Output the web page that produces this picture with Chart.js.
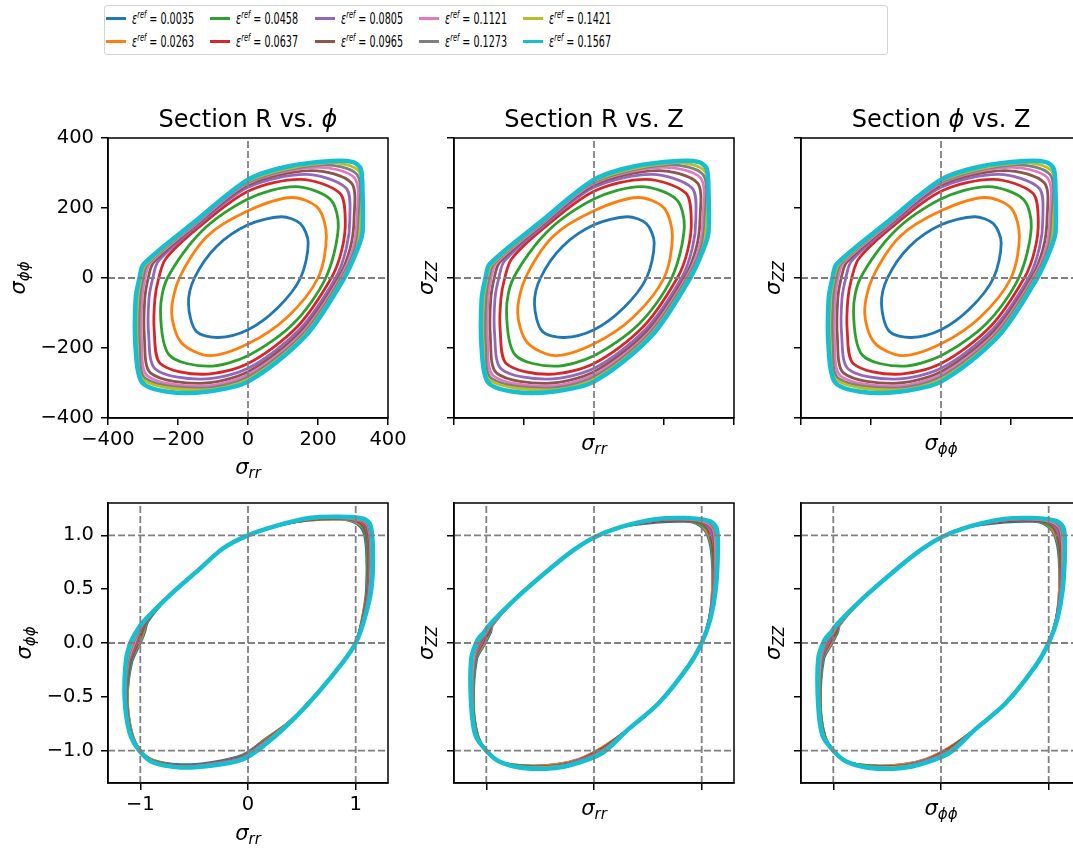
<!DOCTYPE html>
<html lang="en">
<head>
<meta charset="UTF-8" />
<title>Stress sections</title>
<script src="https://cdn.jsdelivr.net/npm/chart.js"></script>
<style>
  html, body { margin: 0; padding: 0; background: #fff; overflow: hidden; }
  body { width: 1073px; height: 848px; position: relative; font-family: "DejaVu Sans", sans-serif; }
  canvas { position: absolute; }
  #legend { position: absolute; left: 104px; top: 5px; width: 782px; height: 48px; border: 1px solid #d4d4d4; border-radius: 3px; }
  .item { position: absolute; height: 20px; width: 100px; }
  .item .swatch { position: absolute; left: 0; top: 8.5px; width: 20px; height: 3px; }
  .item .lbl { position: absolute; left: 26px; top: 0; font-size: 16px; line-height: 20px; white-space: nowrap;
               transform: scaleX(0.6); transform-origin: 0 50%; color: #000; }
  .item .sup { font-size: 11px; position: relative; top: -6px; font-style: italic; }
</style>
</head>
<body>
<div id="legend"></div>
<canvas id="p0" width="415" height="405"></canvas>
<canvas id="p1" width="415" height="405"></canvas>
<canvas id="p2" width="415" height="405"></canvas>
<canvas id="p3" width="415" height="405"></canvas>
<canvas id="p4" width="415" height="405"></canvas>
<canvas id="p5" width="415" height="405"></canvas>

<script>
  const epsRef = ['0.0035', '0.0263', '0.0458', '0.0637', '0.0805', '0.0965', '0.1121', '0.1273', '0.1421', '0.1567'];
  const colors = ['#1f77b4', '#ff7f0e', '#2ca02c', '#d62728', '#9467bd', '#8c564b', '#e377c2', '#7f7f7f', '#bcbd22', '#17becf'];

  const topRange = [-400, 400];
  const topTicks = [-400, -200, 0, 200, 400];
  const topTickLabels = ['\u2212400', '\u2212200', '0', '200', '400'];
  const topRefLines = [0];

  const botRange = [-1.3, 1.3];
  const botXTicks = [-1, 0, 1];
  const botXTickLabels = ['\u22121', '0', '1'];
  const botYTicks = [-1, -0.5, 0, 0.5, 1];
  const botYTickLabels = ['\u22121.0', '\u22120.5', '0.0', '0.5', '1.0'];
  const botRefLines = [-1, 0, 1];

  // top row (absolute stress), one closed loop per eps_ref; the three sections look the same
  const topCurves = [
    [[0,152],[95,175],[150,155],[172,100],[150,0],[85,-85],[0,-148],[-85,-170],[-148,-152],[-170,-75],[-153,0],[-90,90]],
    [[0,192],[125,230],[200,200],[224,120],[200,0],[112,-112],[0,-188],[-110,-222],[-190,-185],[-218,-100],[-196,0],[-118,118]],
    [[0,226],[135,261],[235,225],[258,145],[222,0],[130,-130],[0,-222],[-115,-252],[-225,-220],[-250,-95],[-230,0],[-133,133]],
    [[0,248],[150,282],[262,243],[278,165],[268,80],[238,0],[140,-140],[0,-244],[-130,-275],[-250,-245],[-268,-150],[-266,-60],[-255,0],[-235,55],[-143,143]],
    [[0,259],[165,296],[280,257],[291,170],[281,85],[250,0],[147,-147],[0,-258],[-135,-289],[-265,-260],[-284,-160],[-283,-60],[-272,0],[-256,48],[-147,147]],
    [[0,266],[180,307],[295,272],[303,170],[292,85],[258,0],[152,-152],[0,-268],[-135,-301],[-278,-272],[-296,-170],[-295,-60],[-285,0],[-270,44],[-150,150]],
    [[0,271],[195,316],[305,285],[311,170],[300,85],[263,0],[156,-156],[0,-276],[-135,-309],[-287,-280],[-304,-180],[-303,-60],[-294,0],[-280,42],[-152,152]],
    [[0,274],[210,323],[312,295],[317,170],[306,85],[267,0],[159,-159],[0,-283],[-135,-315],[-293,-287],[-310,-190],[-309,-60],[-300,0],[-287,40],[-154,154]],
    [[0,277],[225,329],[318,303],[322,170],[311,85],[271,0],[162,-162],[0,-289],[-135,-320],[-298,-292],[-316,-195],[-315,-60],[-305,0],[-293,38],[-155,155]],
    [[0,281],[110,318],[240,334],[300,331],[322,312],[327,250],[327,130],[312,80],[275,0],[165,-165],[0,-296],[-120,-325],[-230,-325],[-303,-298],[-321,-200],[-321,-60],[-310,0],[-298,40],[-157,157]]
  ];

  // bottom row, normalised, R vs phi
  const botRPhiCurves = [
    [[0,1.0],[0.27,1.09],[0.57,1.14],[0.85,1.15],[0.99,1.12],[1.07,1.04],[1.10,0.86],[1.10,0.5],[1.06,0.22],[1.0,0],[0.88,-0.18],[0.66,-0.45],[0.4,-0.72],[0.15,-0.9],[-0.05,-1.04],[-0.35,-1.11],[-0.63,-1.13],[-0.88,-1.09],[-1.0,-1.0],[-1.08,-0.83],[-1.12,-0.52],[-1.08,-0.18],[-1.0,0],[-0.96,0.1],[-0.93,0.2],[-0.73,0.44],[-0.48,0.66],[-0.23,0.88]],
    [[0,1.0],[0.27,1.09],[0.57,1.14],[0.85,1.15],[1.0,1.125],[1.08,1.05],[1.11,0.86],[1.11,0.5],[1.06,0.22],[1.0,0],[0.88,-0.18],[0.66,-0.45],[0.4,-0.72],[0.15,-0.905],[-0.05,-1.05],[-0.35,-1.12],[-0.63,-1.14],[-0.88,-1.09],[-1.0,-1.0],[-1.08,-0.83],[-1.12,-0.52],[-1.09,-0.18],[-1.01,0],[-0.97,0.1],[-0.94,0.2],[-0.73,0.44],[-0.48,0.66],[-0.23,0.88]],
    [[0,1.0],[0.27,1.09],[0.57,1.145],[0.85,1.155],[1.01,1.13],[1.08,1.05],[1.11,0.86],[1.11,0.5],[1.065,0.22],[1.0,0],[0.88,-0.18],[0.66,-0.45],[0.4,-0.72],[0.15,-0.91],[-0.05,-1.05],[-0.35,-1.12],[-0.63,-1.14],[-0.88,-1.095],[-1.0,-1.0],[-1.085,-0.83],[-1.125,-0.52],[-1.09,-0.18],[-1.02,0],[-0.98,0.1],[-0.94,0.2],[-0.73,0.44],[-0.48,0.66],[-0.23,0.88]],
    [[0,1.0],[0.27,1.09],[0.57,1.145],[0.85,1.16],[1.02,1.13],[1.09,1.06],[1.12,0.86],[1.115,0.5],[1.065,0.22],[1.0,0],[0.88,-0.18],[0.66,-0.45],[0.4,-0.72],[0.15,-0.915],[-0.05,-1.055],[-0.35,-1.12],[-0.63,-1.14],[-0.88,-1.1],[-1.0,-1.0],[-1.09,-0.83],[-1.13,-0.52],[-1.1,-0.18],[-1.03,-0.01],[-0.99,0.1],[-0.945,0.2],[-0.73,0.44],[-0.48,0.66],[-0.23,0.88]],
    [[0,1.0],[0.27,1.09],[0.57,1.15],[0.85,1.16],[1.03,1.135],[1.10,1.065],[1.125,0.86],[1.12,0.5],[1.07,0.22],[1.0,0],[0.88,-0.18],[0.66,-0.45],[0.4,-0.72],[0.15,-0.92],[-0.05,-1.06],[-0.35,-1.125],[-0.63,-1.145],[-0.88,-1.1],[-1.0,-1.0],[-1.09,-0.83],[-1.13,-0.52],[-1.105,-0.18],[-1.04,-0.01],[-1.0,0.1],[-0.95,0.2],[-0.73,0.44],[-0.48,0.66],[-0.23,0.88]],
    [[0,1.0],[0.27,1.09],[0.57,1.15],[0.85,1.165],[1.04,1.14],[1.105,1.07],[1.13,0.86],[1.125,0.5],[1.07,0.22],[1.0,0],[0.88,-0.18],[0.66,-0.45],[0.4,-0.72],[0.15,-0.925],[-0.05,-1.065],[-0.35,-1.13],[-0.63,-1.145],[-0.88,-1.1],[-1.0,-1.0],[-1.09,-0.83],[-1.135,-0.52],[-1.11,-0.18],[-1.05,-0.01],[-1.005,0.1],[-0.955,0.2],[-0.73,0.44],[-0.48,0.66],[-0.23,0.88]],
    [[0,1.0],[0.27,1.09],[0.57,1.155],[0.85,1.165],[1.05,1.14],[1.115,1.08],[1.14,0.86],[1.13,0.5],[1.075,0.22],[1.0,0],[0.88,-0.18],[0.66,-0.45],[0.4,-0.72],[0.15,-0.93],[-0.05,-1.07],[-0.35,-1.13],[-0.63,-1.15],[-0.88,-1.105],[-1.0,-1.0],[-1.095,-0.83],[-1.14,-0.52],[-1.115,-0.18],[-1.06,-0.015],[-1.015,0.1],[-0.96,0.2],[-0.73,0.44],[-0.48,0.66],[-0.23,0.88]],
    [[0,1.0],[0.27,1.09],[0.57,1.155],[0.85,1.17],[1.055,1.145],[1.12,1.085],[1.145,0.86],[1.135,0.5],[1.075,0.22],[1.0,0],[0.88,-0.18],[0.66,-0.45],[0.4,-0.72],[0.15,-0.935],[-0.05,-1.073],[-0.35,-1.135],[-0.63,-1.15],[-0.88,-1.105],[-1.0,-1.0],[-1.095,-0.83],[-1.14,-0.52],[-1.12,-0.18],[-1.075,-0.015],[-1.02,0.1],[-0.963,0.2],[-0.73,0.44],[-0.48,0.66],[-0.23,0.88]],
    [[0,1.0],[0.27,1.09],[0.57,1.16],[0.85,1.17],[1.06,1.15],[1.13,1.09],[1.15,0.86],[1.14,0.5],[1.08,0.22],[1.0,0],[0.88,-0.18],[0.66,-0.45],[0.4,-0.72],[0.15,-0.94],[-0.05,-1.077],[-0.35,-1.137],[-0.63,-1.153],[-0.88,-1.108],[-1.0,-1.0],[-1.098,-0.83],[-1.142,-0.52],[-1.128,-0.18],[-1.085,-0.02],[-1.03,0.1],[-0.967,0.2],[-0.73,0.44],[-0.48,0.66],[-0.23,0.88]],
    [[0,1.0],[0.27,1.09],[0.57,1.16],[0.85,1.172],[1.07,1.155],[1.135,1.10],[1.16,0.86],[1.145,0.5],[1.08,0.22],[1.0,0],[0.88,-0.18],[0.66,-0.45],[0.4,-0.73],[0.15,-0.95],[-0.05,-1.08],[-0.35,-1.14],[-0.63,-1.155],[-0.88,-1.11],[-1.01,-1.0],[-1.10,-0.83],[-1.145,-0.52],[-1.135,-0.18],[-1.10,-0.02],[-1.04,0.1],[-0.97,0.2],[-0.73,0.44],[-0.48,0.66],[-0.23,0.88]]
  ];

  // bottom row, normalised, vs ZZ (R vs Z and phi vs Z look the same)
  const botZZCurves = [
    [[0,0.98],[0.26,1.08],[0.57,1.12],[0.85,1.13],[0.95,1.11],[1.04,1.03],[1.09,0.85],[1.1,0.5],[1.07,0.22],[1,0],[0.88,-0.21],[0.6,-0.56],[0.32,-0.8],[0.08,-0.97],[-0.14,-1.08],[-0.36,-1.13],[-0.66,-1.14],[-0.88,-1.1],[-1,-1],[-1.08,-0.86],[-1.12,-0.58],[-1.09,-0.15],[-1.01,0],[-0.96,0.1],[-0.94,0.17],[-0.73,0.41],[-0.45,0.655],[-0.2,0.855]],
    [[0,0.98],[0.26,1.08],[0.57,1.13],[0.85,1.14],[0.97,1.11],[1.05,1.03],[1.1,0.85],[1.1,0.5],[1.07,0.22],[1,0],[0.88,-0.21],[0.6,-0.56],[0.32,-0.8],[0.08,-0.97],[-0.14,-1.08],[-0.36,-1.13],[-0.66,-1.14],[-0.88,-1.1],[-1,-1],[-1.08,-0.86],[-1.12,-0.58],[-1.1,-0.15],[-1.02,0],[-0.97,0.1],[-0.94,0.17],[-0.73,0.41],[-0.45,0.655],[-0.2,0.855]],
    [[0,0.98],[0.26,1.08],[0.57,1.13],[0.85,1.14],[0.98,1.11],[1.06,1.04],[1.1,0.85],[1.11,0.5],[1.07,0.22],[1,0],[0.88,-0.21],[0.6,-0.56],[0.32,-0.8],[0.08,-0.98],[-0.14,-1.09],[-0.36,-1.14],[-0.66,-1.14],[-0.88,-1.1],[-1,-1],[-1.08,-0.86],[-1.12,-0.58],[-1.1,-0.15],[-1.03,0.01],[-0.97,0.1],[-0.95,0.17],[-0.73,0.41],[-0.45,0.655],[-0.2,0.855]],
    [[0,0.98],[0.26,1.08],[0.57,1.13],[0.85,1.14],[1.0,1.12],[1.07,1.04],[1.11,0.85],[1.11,0.5],[1.07,0.22],[1,0],[0.88,-0.21],[0.6,-0.56],[0.32,-0.8],[0.08,-0.98],[-0.14,-1.09],[-0.36,-1.14],[-0.66,-1.15],[-0.88,-1.1],[-1,-1],[-1.09,-0.86],[-1.13,-0.58],[-1.11,-0.15],[-1.03,0.01],[-0.98,0.1],[-0.95,0.17],[-0.73,0.41],[-0.45,0.655],[-0.2,0.855]],
    [[0,0.98],[0.26,1.08],[0.57,1.14],[0.85,1.15],[1.01,1.12],[1.08,1.04],[1.12,0.85],[1.11,0.5],[1.07,0.22],[1,0],[0.88,-0.21],[0.6,-0.56],[0.32,-0.8],[0.08,-0.99],[-0.14,-1.09],[-0.36,-1.14],[-0.66,-1.15],[-0.88,-1.1],[-1,-1],[-1.09,-0.86],[-1.13,-0.58],[-1.11,-0.15],[-1.04,0.01],[-0.99,0.1],[-0.95,0.17],[-0.73,0.41],[-0.45,0.655],[-0.2,0.855]],
    [[0,0.98],[0.26,1.08],[0.57,1.14],[0.85,1.15],[1.02,1.12],[1.1,1.05],[1.12,0.85],[1.12,0.5],[1.08,0.22],[1,0],[0.88,-0.21],[0.6,-0.56],[0.32,-0.8],[0.08,-0.99],[-0.14,-1.1],[-0.36,-1.14],[-0.66,-1.15],[-0.88,-1.1],[-1,-1],[-1.09,-0.86],[-1.13,-0.58],[-1.12,-0.15],[-1.05,0.02],[-0.99,0.1],[-0.96,0.17],[-0.73,0.41],[-0.45,0.655],[-0.2,0.855]],
    [[0,0.98],[0.26,1.08],[0.57,1.14],[0.85,1.15],[1.04,1.12],[1.11,1.05],[1.13,0.85],[1.12,0.5],[1.08,0.22],[1,0],[0.88,-0.21],[0.6,-0.56],[0.32,-0.8],[0.08,-1.0],[-0.14,-1.1],[-0.36,-1.15],[-0.66,-1.15],[-0.88,-1.1],[-1,-1],[-1.09,-0.86],[-1.13,-0.58],[-1.12,-0.15],[-1.06,0.02],[-1.0,0.1],[-0.96,0.17],[-0.73,0.41],[-0.45,0.655],[-0.2,0.855]],
    [[0,0.98],[0.26,1.08],[0.57,1.14],[0.85,1.16],[1.05,1.13],[1.12,1.05],[1.14,0.85],[1.12,0.5],[1.08,0.22],[1,0],[0.88,-0.21],[0.6,-0.56],[0.32,-0.8],[0.08,-1.0],[-0.14,-1.1],[-0.36,-1.15],[-0.66,-1.16],[-0.88,-1.1],[-1,-1],[-1.1,-0.86],[-1.14,-0.58],[-1.13,-0.15],[-1.06,0.02],[-1.01,0.1],[-0.96,0.17],[-0.73,0.41],[-0.45,0.655],[-0.2,0.855]],
    [[0,0.98],[0.26,1.08],[0.57,1.15],[0.85,1.16],[1.07,1.13],[1.13,1.06],[1.14,0.85],[1.13,0.5],[1.08,0.22],[1,0],[0.88,-0.21],[0.6,-0.56],[0.32,-0.8],[0.08,-1.01],[-0.14,-1.11],[-0.36,-1.15],[-0.66,-1.16],[-0.88,-1.1],[-1,-1],[-1.1,-0.86],[-1.14,-0.58],[-1.13,-0.15],[-1.07,0.03],[-1.01,0.1],[-0.97,0.17],[-0.73,0.41],[-0.45,0.655],[-0.2,0.855]],
    [[0,0.98],[0.26,1.08],[0.57,1.15],[0.85,1.16],[1.08,1.13],[1.14,1.06],[1.15,0.85],[1.13,0.5],[1.08,0.22],[1,0],[0.88,-0.21],[0.6,-0.56],[0.32,-0.8],[0.08,-1.02],[-0.14,-1.11],[-0.36,-1.16],[-0.66,-1.16],[-0.88,-1.1],[-1,-1],[-1.1,-0.86],[-1.14,-0.58],[-1.14,-0.15],[-1.08,0.03],[-1.02,0.1],[-0.97,0.17],[-0.73,0.41],[-0.45,0.655],[-0.2,0.855]]
  ];

  const FONT = '"DejaVu Sans"';
  const AXIS_LEFT = 110, AXIS_BOTTOM = 70, PAD_TOP = 50;

  const topRow = { curves: topCurves, range: topRange, xt: topTicks, yt: topTicks, xl: topTickLabels, yl: topTickLabels, refs: topRefLines };
  const botRPhi = { curves: botRPhiCurves, range: botRange, xt: botXTicks, yt: botYTicks, xl: botXTickLabels, yl: botYTickLabels, refs: botRefLines };
  const botZZ = { curves: botZZCurves, range: botRange, xt: botXTicks, yt: botYTicks, xl: botXTickLabels, yl: botYTickLabels, refs: botRefLines };

  const panels = [
    { id: 'p0', left: 108, top: 138, row: topRow, labels: true, title: [['Section R vs. ', false], ['\u03d5', true]], xlab: ['\u03c3', 'rr'], ylab: ['\u03c3', '\u03d5\u03d5'], xOff: 50, yOff: 89 },
    { id: 'p1', left: 454, top: 138, row: topRow, labels: false, title: [['Section R vs. Z', false]], xlab: ['\u03c3', 'rr'], ylab: ['\u03c3', 'ZZ'], xOff: 26, yOff: 27 },
    { id: 'p2', left: 801, top: 138, row: topRow, labels: false, title: [['Section ', false], ['\u03d5', true], [' vs. Z', false]], xlab: ['\u03c3', '\u03d5\u03d5'], ylab: ['\u03c3', 'ZZ'], xOff: 26, yOff: 27 },
    { id: 'p3', left: 108, top: 503, row: botRPhi, labels: true, title: null, xlab: ['\u03c3', 'rr'], ylab: ['\u03c3', '\u03d5\u03d5'], xOff: 51, yOff: 83 },
    { id: 'p4', left: 454, top: 503, row: botZZ, labels: false, title: null, xlab: ['\u03c3', 'rr'], ylab: ['\u03c3', 'ZZ'], xOff: 26, yOff: 27 },
    { id: 'p5', left: 801, top: 503, row: botZZ, labels: false, title: null, xlab: ['\u03c3', '\u03d5\u03d5'], ylab: ['\u03c3', 'ZZ'], xOff: 26, yOff: 27 }
  ];
  const panelById = {};
  panels.forEach(p => { panelById[p.id] = p; });

  // sigma with a lowered, smaller subscript; anchor is the centre of the sigma body
  function mathLabel(ctx, lab, x, y, rotate) {
    ctx.save();
    ctx.translate(x, y);
    if (rotate) ctx.rotate(-Math.PI / 2);
    ctx.fillStyle = '#000';
    ctx.textAlign = 'left';
    ctx.textBaseline = 'alphabetic';
    const f1 = 'italic 21px ' + FONT, f2 = 'italic 15px ' + FONT;
    ctx.font = f1;
    const w1 = ctx.measureText(lab[0]).width;
    ctx.font = f2;
    const w2 = ctx.measureText(lab[1]).width;
    const x0 = -(w1 + w2) / 2;
    ctx.font = f1;
    ctx.fillText(lab[0], x0, 6);
    ctx.font = f2;
    ctx.fillText(lab[1], x0 + w1, 10);
    ctx.restore();
  }

  function richTitle(ctx, parts, cx, y) {
    ctx.save();
    ctx.fillStyle = '#000';
    ctx.textAlign = 'left';
    ctx.textBaseline = 'alphabetic';
    const fonts = parts.map(p => (p[1] ? 'italic ' : '') + '24px ' + FONT);
    let total = 0;
    const widths = parts.map((p, i) => { ctx.font = fonts[i]; const w = ctx.measureText(p[0]).width; total += w; return w; });
    let x = cx - total / 2;
    parts.forEach((p, i) => { ctx.font = fonts[i]; ctx.fillText(p[0], x, y); x += widths[i]; });
    ctx.restore();
  }

  const panelDecor = {
    id: 'panelDecor',
    // the loops are closed curves: let the line element join last point to first
    afterDatasetUpdate(chart, args) {
      const ds = chart.data.datasets[args.index];
      const line = args.meta.dataset;
      if (ds.closed && line) {
        line._loop = true;
        line._fullLoop = true;
      }
    },
    afterDatasetsDraw(chart) {
      const { ctx, chartArea: { left, top, right, bottom } } = chart;
      ctx.save();
      ctx.strokeStyle = '#000';
      ctx.lineWidth = 1.5;
      ctx.strokeRect(left, top, right - left, bottom - top);
      ctx.restore();
    },
    afterDraw(chart) {
      const p = panelById[chart.canvas.id];
      const { ctx, chartArea: { left, top, right, bottom } } = chart;
      const cx = (left + right) / 2, cy = (top + bottom) / 2;
      if (p.title) richTitle(ctx, p.title, cx, top - 11);
      mathLabel(ctx, p.xlab, cx, bottom + p.xOff, false);
      mathLabel(ctx, p.ylab, left - p.yOff, cy, true);
    }
  };

  function axis(horiz, p) {
    const r = p.row;
    const ticks = horiz ? r.xt : r.yt;
    const labels = horiz ? r.xl : r.yl;
    return {
      type: 'linear',
      position: horiz ? 'bottom' : 'left',
      min: r.range[0],
      max: r.range[1],
      afterBuildTicks: s => { s.ticks = ticks.map(v => ({ value: v })); },
      afterFit: s => {
        if (horiz) s.height = AXIS_BOTTOM; else s.width = AXIS_LEFT;
        s.paddingLeft = 0; s.paddingRight = 0; s.paddingTop = 0; s.paddingBottom = 0;
      },
      grid: { drawOnChartArea: false, drawTicks: true, tickLength: 7, color: '#000', lineWidth: 1.5 },
      border: { display: true, color: '#000', width: 1.5 },
      ticks: {
        display: p.labels,
        autoSkip: false,
        maxRotation: 0,
        padding: horiz ? 3 : 7,
        color: '#000',
        font: { family: 'DejaVu Sans', size: 19.5 },
        callback: (v, i) => labels[i]
      }
    };
  }

  panels.forEach(p => {
    const canvas = document.getElementById(p.id);
    canvas.style.left = (p.left - AXIS_LEFT) + 'px';
    canvas.style.top = (p.top - PAD_TOP) + 'px';
    const r = p.row;
    const n = r.curves.length;

    const datasets = r.curves.map((pts, i) => ({
      label: '\u03b5ref = ' + epsRef[i],
      data: pts.map(q => ({ x: q[0], y: q[1] })),
      borderColor: colors[i],
      borderWidth: i === n - 1 ? 4.5 : 2.8,
      pointRadius: 0,
      tension: 0.3,
      fill: false,
      closed: true,
      order: n - i
    }));

    // dashed guide lines
    r.refs.forEach(v => {
      const dash = { borderColor: '#808080', borderWidth: 1.8, borderDash: [7, 3], pointRadius: 0, tension: 0, fill: false, order: 0 };
      datasets.push(Object.assign({ data: [{ x: r.range[0], y: v }, { x: r.range[1], y: v }] }, dash));
      datasets.push(Object.assign({ data: [{ x: v, y: r.range[0] }, { x: v, y: r.range[1] }] }, dash));
    });

    new Chart(canvas, {
      type: 'line',
      data: { datasets },
      options: {
        responsive: false,
        animation: false,
        devicePixelRatio: 1,
        events: [],
        layout: { padding: { left: 0, top: PAD_TOP, right: 25, bottom: 5 } },
        scales: { x: axis(true, p), y: axis(false, p) },
        plugins: { legend: { display: false }, tooltip: { enabled: false }, title: { display: false } }
      },
      plugins: [panelDecor]
    });
  });

  // legend, 5 columns x 2 rows, filled column by column
  const legendBox = document.getElementById('legend');
  epsRef.forEach((e, i) => {
    const col = Math.floor(i / 2), row = i % 2;
    const item = document.createElement('div');
    item.className = 'item';
    item.style.left = (1 + col * 104.3) + 'px';
    item.style.top = (2.5 + row * 23.4) + 'px';
    item.innerHTML = '<span class="swatch" style="background:' + colors[i] + '"></span>' +
      '<span class="lbl"><i>\u03b5</i><span class="sup">ref</span> = ' + e + '</span>';
    legendBox.appendChild(item);
  });
</script>
</body>
</html>
